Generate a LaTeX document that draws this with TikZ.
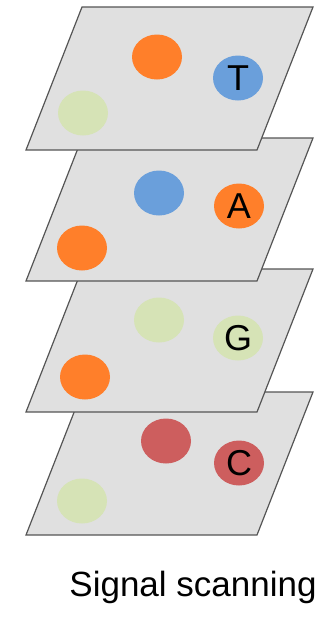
\documentclass[tikz,border=0pt]{standalone}
\usepackage{fontspec}
\setmainfont{Liberation Sans}
\usetikzlibrary{shapes.geometric}
\definecolor{panelgray}{HTML}{E0E0E0}
\definecolor{edgegray}{HTML}{555555}
\definecolor{dotorange}{HTML}{FF7F2A}
\definecolor{dotblue}{HTML}{6A9FDB}
\definecolor{dotgreen}{HTML}{D6E3B6}
\definecolor{dotred}{HTML}{CD5E5E}
\tikzset{
  panel/.style={fill=panelgray, draw=edgegray, line width=1.2pt, line join=miter},
  dot/.style={ellipse, minimum width=50pt, minimum height=45pt, inner sep=0pt, fill=#1,
    font=\fontsize{36}{40}\selectfont, text=black},
  caption/.style={font=\fontsize{35}{40}\selectfont, text=black, inner sep=0pt, anchor=base}
}
\begin{document}
\begin{tikzpicture}[x=1pt,y=-1pt]
\useasboundingbox (0,0) rectangle (334,627);
% panel 4 (bottom)
\path[panel] (82,392) -- (313,392) -- (257,535) -- (26,535) -- cycle;
\node[dot=dotred] (c4a) at (166,441) {};
\node[dot=dotred] (c4b) at (239,463) {C};
\node[dot=dotgreen] (c4c) at (82,501) {};
% panel 3
\path[panel] (82,269) -- (313,269) -- (257,412) -- (26,412) -- cycle;
\node[dot=dotgreen] (c3a) at (159,320) {};
\node[dot=dotgreen] (c3b) at (238,338) {G};
\node[dot=dotorange] (c3c) at (85,377) {};
% panel 2
\path[panel] (82,138) -- (313,138) -- (257,281) -- (26,281) -- cycle;
\node[dot=dotblue] (c2a) at (159,193) {};
\node[dot=dotorange] (c2b) at (239,206) {A};
\node[dot=dotorange] (c2c) at (82,248) {};
% panel 1 (top)
\path[panel] (82,7) -- (313,7) -- (257,150) -- (26,150) -- cycle;
\node[dot=dotorange] (c1a) at (157,57) {};
\node[dot=dotblue] (c1b) at (238,78) {T};
\node[dot=dotgreen] (c1c) at (83,113) {};
% caption
\node[caption] (cap) at (193,596) {Signal scanning};
\end{tikzpicture}
\end{document}
